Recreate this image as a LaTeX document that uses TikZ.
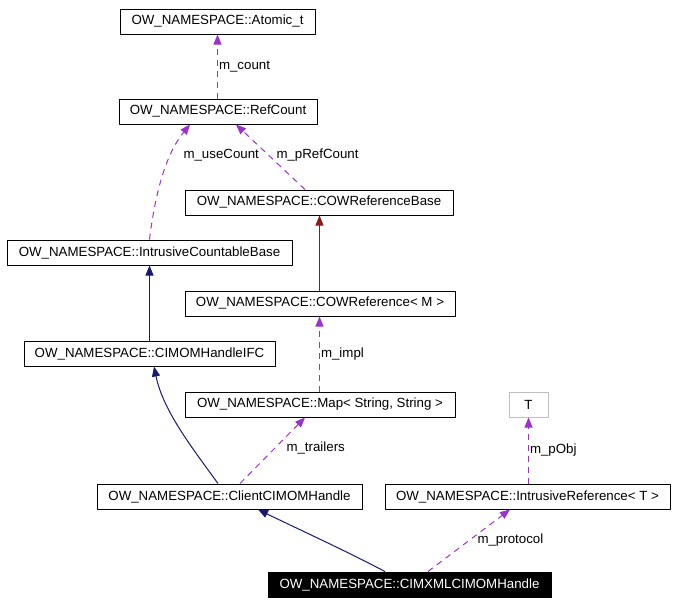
\documentclass[tikz,border=0pt]{standalone}
\usepackage{fontspec}
\setmainfont{Liberation Sans}
\usetikzlibrary{arrows.meta}
\definecolor{usecol}{HTML}{9A32CD}
\definecolor{basecol}{HTML}{191970}
\definecolor{tmplcol}{HTML}{8B1A1A}
\begin{document}
\begin{tikzpicture}[x=1pt,y=-1pt,line join=round,>={Triangle[length=10pt,width=8pt]},line width=1pt]
	\tikzset{every node/.style={font=\fontsize{13.3}{15}\selectfont},
		cls/.style={draw,minimum height=25pt,inner sep=0pt},
		usage/.style={usecol,dash pattern=on 6pt off 5pt,->},
		inherit/.style={basecol,->},
		lbl/.style={anchor=west,inner sep=1pt,text=black}}
	\useasboundingbox (0,0) rectangle (677,605);
	\node[cls,minimum width=195pt] (atomic) at (217.5,21.5) {OW\_NAMESPACE::Atomic\_t};
	\node[cls,minimum width=198pt] (refcount) at (218,111.5) {OW\_NAMESPACE::RefCount};
	\node[cls,minimum width=268pt] (cowbase) at (319,202.5) {OW\_NAMESPACE::COWReferenceBase};
	\node[cls,minimum width=285pt] (icb) at (149.5,252.5) {OW\_NAMESPACE::IntrusiveCountableBase};
	\node[cls,minimum width=270pt] (cowref) at (320,303.5) {OW\_NAMESPACE::COWReference< M >};
	\node[cls,minimum width=251pt] (handleifc) at (149.5,353.5) {OW\_NAMESPACE::CIMOMHandleIFC};
	\node[cls,minimum width=270pt] (map) at (320,404.5) {OW\_NAMESPACE::Map< String, String >};
	\node[cls,draw=black!25,minimum width=39pt] (tparam) at (528.5,404.5) {T};
	\node[cls,minimum width=265pt] (client) at (229.5,496.5) {OW\_NAMESPACE::ClientCIMOMHandle};
	\node[cls,minimum width=285pt] (intref) at (527.5,496.5) {OW\_NAMESPACE::IntrusiveReference< T >};
	\node[cls,fill=black,text=white,minimum width=283pt] (xmlhandle) at (409.5,584.5) {OW\_NAMESPACE::CIMXMLCIMOMHandle};
	\draw[usage] ([xshift=-0.5pt]refcount.north) -- (atomic.south) node[lbl,pos=0.5] {m\_count};
	\draw[usage] (icb.north) .. controls (155,195) and (165,155) .. ([xshift=-28pt]refcount.south);
	\node[lbl] (usecount) at (182,155) {m\_useCount};
	\draw[usage] ([xshift=-14pt]cowbase.north) -- ([xshift=18pt]refcount.south);
	\node[lbl] (prefcount) at (275,155) {m\_pRefCount};
	\draw[tmplcol,->] ([xshift=-0.5pt]cowref.north) -- ([xshift=0.5pt]cowbase.south);
	\draw[inherit] (handleifc.north) -- (icb.south);
	\draw[usage] ([xshift=-0.5pt]map.north) -- ([xshift=-0.5pt]cowref.south) node[lbl,pos=0.5] {m\_impl};
	\draw[inherit] ([xshift=-11.5pt]client.north) .. controls (190,445) and (163,410) .. ([xshift=4.5pt]handleifc.south);
	\draw[usage] ([xshift=10.5pt]client.north) -- ([xshift=-15pt]map.south);
	\node[lbl] (trailers) at (285,448) {m\_trailers};
	\draw[usage] ([xshift=1pt]intref.north) -- (tparam.south) node[lbl,pos=0.5] {m\_pObj};
	\draw[inherit] ([xshift=-24.5pt]xmlhandle.north) .. controls (340,548) and (300,530) .. ([xshift=28.5pt]client.south);
	\draw[usage] ([xshift=18.5pt]xmlhandle.north) -- ([xshift=-17.5pt]intref.south);
	\node[lbl] (protocol) at (476,540) {m\_protocol};
\end{tikzpicture}
\end{document}
